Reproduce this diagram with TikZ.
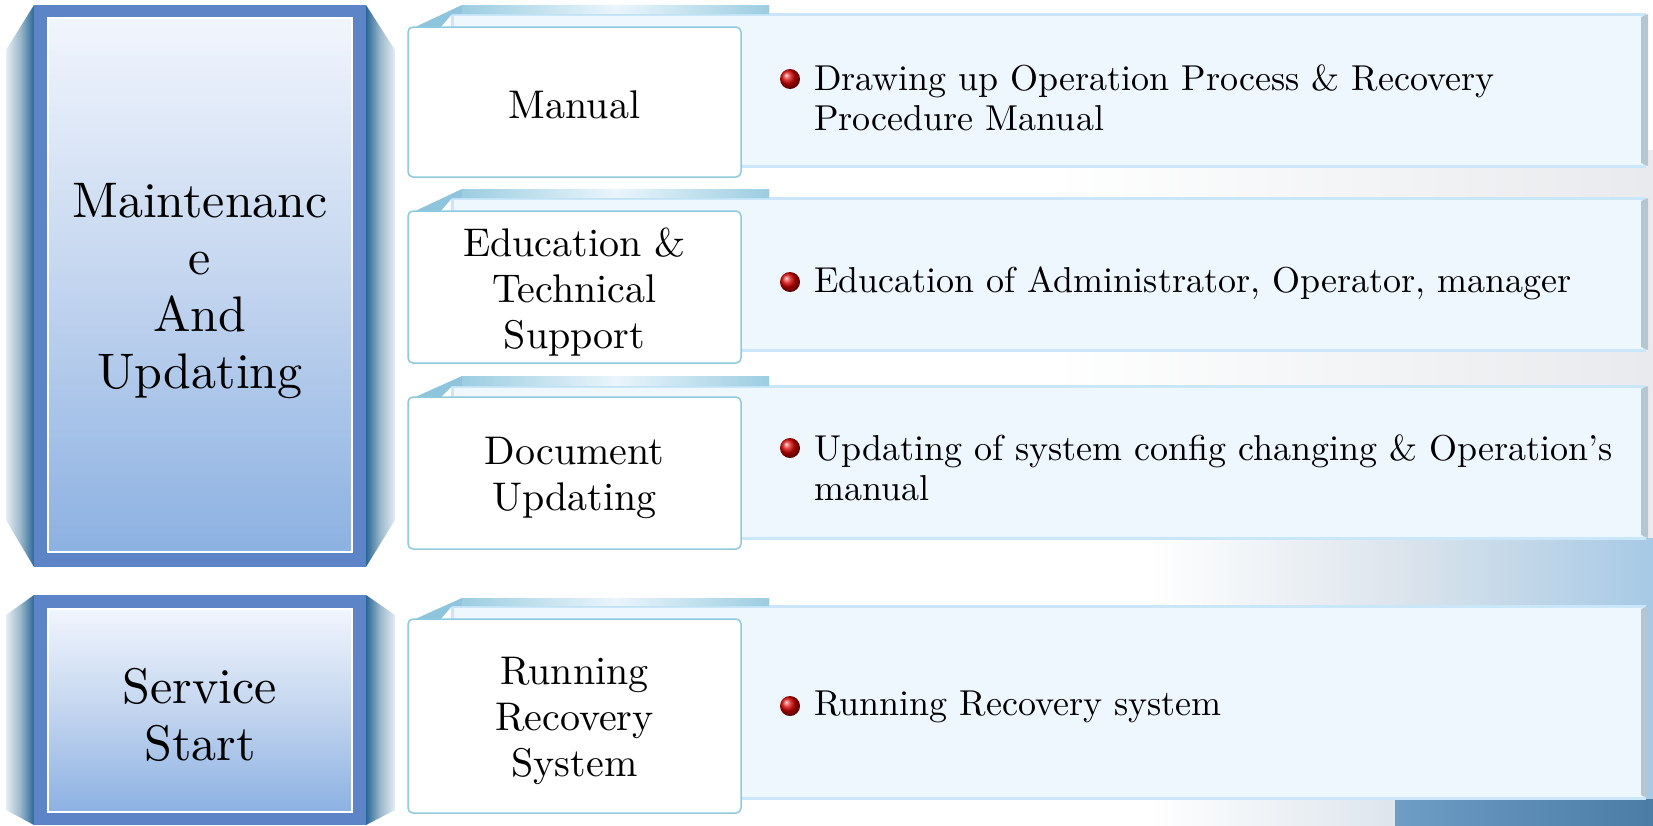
\documentclass[tikz,border=0pt]{standalone}
\usepackage{fontspec}
\setmainfont{lmroman10-regular.otf}
\usetikzlibrary{shadings}
\definecolor{framec}{HTML}{5E84C8}
\definecolor{innertop}{HTML}{F1F5FD}
\definecolor{innermid}{HTML}{C3D5EF}
\definecolor{innerbot}{HTML}{8CB1E2}
\definecolor{wingdark}{HTML}{2A6898}
\definecolor{wingmid}{HTML}{9DB9CC}
\definecolor{winglight}{HTML}{E4EDF2}
\definecolor{panelfill}{HTML}{EFF7FE}
\definecolor{panelline}{HTML}{C9E7F8}
\definecolor{bevelc}{HTML}{B3C6D1}
\definecolor{tabc}{HTML}{9CCDE1}
\definecolor{tabl}{HTML}{EAF5FB}
\definecolor{tabdark}{HTML}{8EC5DC}
\definecolor{boxline}{HTML}{8FCADB}
\definecolor{bggray}{HTML}{E8EAED}
\definecolor{bgmid}{HTML}{DCE4EC}
\definecolor{bgblue}{HTML}{A6C9E5}
\definecolor{bgdarkl}{HTML}{6E9DC5}
\definecolor{bgdarkr}{HTML}{4A7CA6}
\tikzset{
  panel/.style={fill=panelfill, draw=panelline, line width=3pt},
  whitebox/.style={fill=white, draw=boxline, line width=1.5pt, rounded corners=5pt},
  midlabel/.style={font=\fontsize{40}{46}\selectfont, align=center, inner sep=0pt},
  biglabel/.style={font=\fontsize{50}{57}\selectfont, align=center, inner sep=0pt},
  bullettext/.style={font=\fontsize{36}{40}\selectfont, align=left, anchor=west, inner sep=0pt},
  bulletball/.style={ball color=red!85!black},
}
\newcommand{\drawrow}[5]{%
  \filldraw[panel] (452,#2) rectangle (1644,#3);
  \fill[bevelc] (1641,#2+3) -- (1648,#2) -- (1648,#3) -- (1641,#3-3) -- cycle;
  \fill[tabdark] (413,#4+1) -- (462,#1) -- (769,#1) -- (769,#2) -- (452,#2) -- (440,#4+1) -- cycle;
  \shade[left color=tabc, right color=tabc, middle color=tabl] (462,#1) rectangle (769,#2-1);
  \filldraw[whitebox] (408,#4) rectangle (741,#5);
}
\newcommand{\drawbigbox}[4]{% outer top, outer bottom, wing top y, wing bottom y
  \shade[left color=winglight, right color=wingdark, middle color=wingmid] (6,#3) -- (34,#1) -- (34,#2) -- (6,#4) -- cycle;
  \shade[left color=wingdark, right color=winglight, middle color=wingmid] (366,#1) -- (395,#3) -- (395,#4) -- (366,#2) -- cycle;
  \fill[framec] (34,#1) rectangle (366,#2);
}
\begin{document}
\begin{tikzpicture}[x=1pt,y=-1pt]
\useasboundingbox (0,0) rectangle (1653,825);
\fill[white] (0,0) rectangle (1653,825);
% background
\shade[left color=white, right color=bggray] (1050,150) rectangle (1653,538);
\shade[left color=white, right color=bgblue, middle color=bgmid] (1150,538) rectangle (1653,825);
\shade[left color=bgdarkl, right color=bgdarkr] (1395,799) rectangle (1653,825);
% left boxes
\drawbigbox{5}{567}{50}{520}
\shade[top color=innertop, bottom color=innerbot, middle color=innermid] (48,18) rectangle (352,552);
\draw[white, line width=1.5pt] (48,18) rectangle (352,552);
\drawbigbox{595}{825}{615}{810}
\shade[top color=innertop, bottom color=innerbot, middle color=innermid] (48,609) rectangle (352,812);
\draw[white, line width=1.5pt] (48,609) rectangle (352,812);
\node[biglabel] (maint) at (200,291) {Maintenanc\\e\\And\\Updating};
\node[biglabel] (serv) at (200,715) {Service\\Start};
% rows
\drawrow{5}{14}{166}{27}{177}
\drawrow{189}{198}{350}{211}{363}
\drawrow{376}{386}{538}{397}{549}
\drawrow{598}{606}{798}{619}{813}
% middle labels
\node[midlabel] (manual) at (574.5,105) {Manual};
\node[midlabel] (edu) at (574.5,292) {Education \&\\Technical\\Support};
\node[midlabel] (doc) at (574.5,478) {Document\\Updating};
\node[midlabel] (run) at (574.5,721) {Running\\Recovery\\System};
% bullets
\shade[bulletball] (790,79) circle (10);
\shade[bulletball] (790,282) circle (10);
\shade[bulletball] (790,448) circle (10);
\shade[bulletball] (790,706) circle (10);
\node[bullettext] (t1) at (814,98) {Drawing up Operation Process \& Recovery\\Procedure Manual};
\node[bullettext] (t2) at (814,283) {Education of Administrator, Operator, manager};
\node[bullettext] (t3) at (814,468) {Updating of system config changing \& Operation's\\manual};
\node[bullettext] (t4) at (814,707) {Running Recovery system};
\end{tikzpicture}
\end{document}
